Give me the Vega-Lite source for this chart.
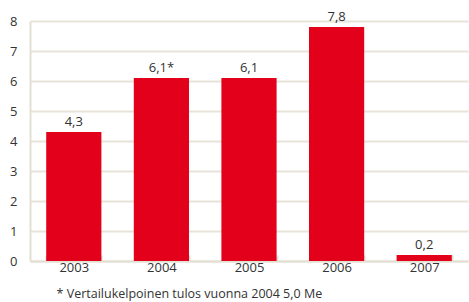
{
  "$schema": "https://vega.github.io/schema/vega-lite/v6.json",
  "width": 438,
  "height": 240,
  "autosize": {"type": "none"},
  "padding": {"left": 30, "top": 21, "right": 1, "bottom": 41},
  "background": "white",
  "config": {
    "view": {"stroke": null},
    "font": "Open Sans",
    "axis": {"labelFont": "Open Sans", "labelColor": "#333333", "labelFontSize": 13}
  },
  "title": {
    "text": "* Vertailukelpoinen tulos vuonna 2004 5,0 Me",
    "orient": "bottom",
    "anchor": "start",
    "dx": 47,
    "offset": 14,
    "fontSize": 12.5,
    "fontWeight": "normal",
    "color": "#333333",
    "font": "Open Sans"
  },
  "data": {
    "values": [
      {"year": "2003", "value": 4.3, "label": "4,3"},
      {"year": "2004", "value": 6.1, "label": "6,1*"},
      {"year": "2005", "value": 6.1, "label": "6,1"},
      {"year": "2006", "value": 7.8, "label": "7,8"},
      {"year": "2007", "value": 0.2, "label": "0,2"}
    ]
  },
  "encoding": {
    "x": {
      "field": "year",
      "type": "nominal",
      "scale": {"paddingInner": 0.37, "paddingOuter": 0.185},
      "axis": {
        "title": null,
        "labelAngle": 0,
        "domainColor": "#e3dfd3",
        "domainWidth": 2,
        "tickBand": "extent",
        "tickColor": "#e3dfd3",
        "tickSize": -6,
        "tickWidth": 2,
        "labelPadding": 6
      }
    },
    "y": {
      "field": "value",
      "type": "quantitative",
      "scale": {"domain": [0, 8], "nice": false},
      "axis": {
        "title": null,
        "values": [0, 1, 2, 3, 4, 5, 6, 7, 8],
        "ticks": false,
        "domainColor": "#e3dfd3",
        "domainWidth": 2,
        "gridColor": "#e8e4da",
        "gridWidth": 2,
        "labelPadding": 13
      }
    }
  },
  "layer": [
    {"mark": {"type": "bar", "color": "#e2001a"}},
    {
      "mark": {"type": "text", "dy": -10, "fontSize": 13, "color": "#333333", "font": "Open Sans"},
      "encoding": {"text": {"field": "label"}}
    }
  ]
}
